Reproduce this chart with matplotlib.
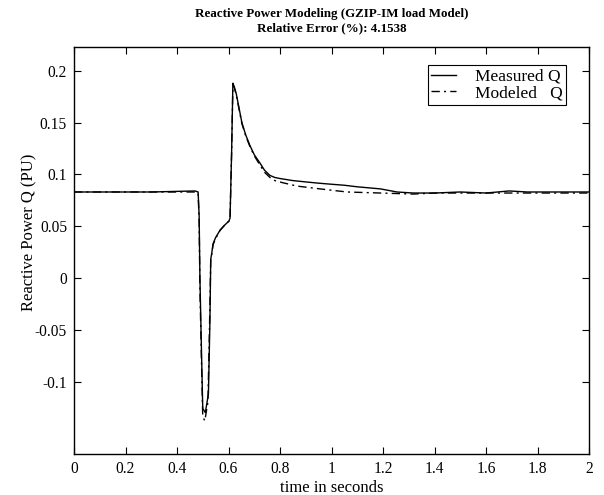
import matplotlib
matplotlib.use("Agg")
import matplotlib.pyplot as plt
import numpy as np

# Measured Q (time in s, value in PU)
t_meas = [0.0, 0.30, 0.47, 0.482, 0.486, 0.489, 0.495, 0.50, 0.51, 0.522, 0.528, 0.531,
          0.535, 0.54, 0.55, 0.567, 0.585, 0.602, 0.606, 0.612, 0.617, 0.622, 0.63,
          0.637, 0.652, 0.667, 0.683, 0.70, 0.722, 0.74, 0.761, 0.78, 0.80, 0.85,
          0.905, 0.95, 0.994, 1.05, 1.10, 1.19, 1.254, 1.317, 1.40, 1.50, 1.60,
          1.69, 1.76, 1.85, 2.0]
q_meas = [0.083, 0.083, 0.084, 0.083, 0.06, 0.0, -0.07, -0.126, -0.13, -0.112, -0.04, 0.018,
          0.024, 0.033, 0.039, 0.046, 0.051, 0.055, 0.058, 0.12, 0.188, 0.185, 0.178,
          0.169, 0.150, 0.138, 0.128, 0.119, 0.111, 0.104, 0.099, 0.097, 0.096, 0.094,
          0.0926, 0.0915, 0.0906, 0.0895, 0.088, 0.086, 0.083, 0.082, 0.082, 0.083, 0.082,
          0.084, 0.083, 0.083, 0.083]

# Modeled Q
t_mod = [0.0, 0.30, 0.47, 0.482, 0.486, 0.489, 0.495, 0.50, 0.508, 0.52, 0.526, 0.531,
         0.535, 0.54, 0.55, 0.567, 0.585, 0.602, 0.606, 0.612, 0.617, 0.622, 0.63,
         0.637, 0.652, 0.667, 0.683, 0.70, 0.722, 0.74, 0.761, 0.78, 0.81, 0.866,
         0.955, 1.06, 1.19, 1.317, 1.40, 1.50, 1.60, 1.70, 1.80, 2.0]
q_mod = [0.083, 0.083, 0.083, 0.082, 0.055, -0.01, -0.08, -0.134, -0.138, -0.12, -0.05, 0.017,
         0.023, 0.032, 0.038, 0.046, 0.051, 0.055, 0.058, 0.12, 0.186, 0.184, 0.177,
         0.168, 0.149, 0.137, 0.127, 0.118, 0.109, 0.102, 0.097, 0.094, 0.092, 0.0887,
         0.086, 0.083, 0.082, 0.081, 0.082, 0.082, 0.082, 0.082, 0.082, 0.082]

x_ticks = [0, 0.2, 0.4, 0.6, 0.8, 1.0, 1.2, 1.4, 1.6, 1.8, 2.0]
x_ticklabels = ["0", "0.2", "0.4", "0.6", "0.8", "1", "1.2", "1.4", "1.6", "1.8", "2"]
y_ticks = [-0.1, -0.05, 0, 0.05, 0.1, 0.15, 0.2]
y_ticklabels = ["-0.1", "-0.05", "0", "0.05", "0.1", "0.15", "0.2"]

plt.rcParams['font.family'] = ['Liberation Serif', 'DejaVu Serif']
plt.rcParams['font.size'] = 11

fig = plt.figure(figsize=(6.04, 4.95), dpi=100)
ax = fig.add_axes([74/604, 1-454/495, (589-74)/604, (454-47)/495])

ax.plot(t_meas, q_meas, color='black', lw=1.0, label='Measured Q')
ax.plot(t_mod, q_mod, color='black', lw=1.0, linestyle=(0, (6, 3, 1.5, 3)), label='Modeled   Q')

ax.set_xlim(0, 2)
ax.set_ylim(-0.17, 0.223)
ax.set_xticks(x_ticks)
ax.set_xticklabels(x_ticklabels)
ax.set_yticks(y_ticks)
ax.set_yticklabels(y_ticklabels)
ax.tick_params(direction='in', length=5, width=0.8, top=True, right=True, labelsize=11.2, pad=5)
for s in ax.spines.values():
    s.set_linewidth(1.0)

ax.set_xlabel('time in seconds', fontsize=12, labelpad=2)
ax.set_ylabel('Reactive Power Q (PU)', fontsize=12)
ax.yaxis.set_label_coords(-0.072, 0.545)
ax.set_title('Reactive Power Modeling (GZIP-IM load Model)\nRelative Error (%): 4.1538',
             fontsize=9.4, fontweight='bold', pad=11, linespacing=1.25)

leg = ax.legend(loc='upper right', bbox_to_anchor=(0.955, 0.955), frameon=True, fancybox=False,
                edgecolor='black', framealpha=1, fontsize=12.5, handlelength=1.4,
                borderpad=0.2, labelspacing=0.0, handletextpad=1.1, borderaxespad=0)
leg.get_frame().set_linewidth(0.8)

fig.savefig('out.png', dpi=100)
